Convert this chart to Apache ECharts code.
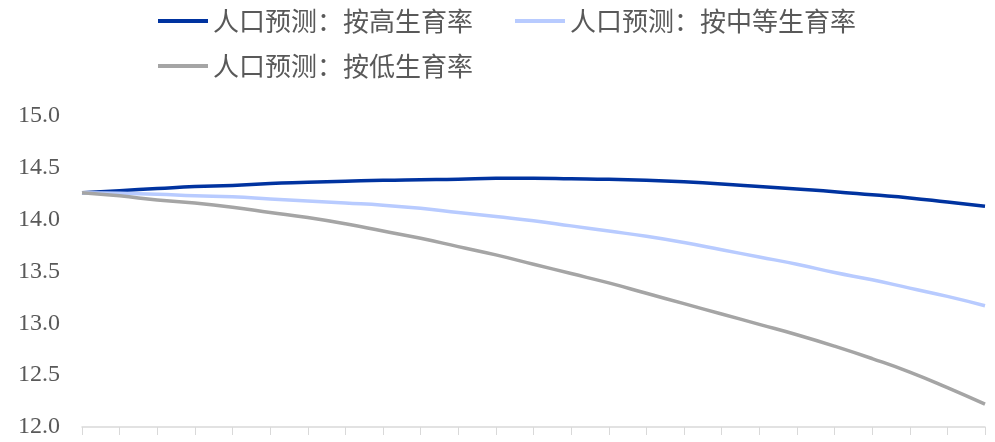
<!DOCTYPE html>
<html>
<head>
<meta charset="utf-8">
<script src="https://cdn.jsdelivr.net/npm/echarts@6/dist/echarts.min.js"></script>
<style>
html, body { margin: 0; padding: 0; background: #fff; }
#main { width: 995px; height: 442px; }
</style>
</head>
<body>
<div id="main"></div>
<script>
// 年份（横轴刻度，原图未显示标签）
var years = ['2021','2022','2023','2024','2025','2026','2027','2028','2029','2030',
	'2031','2032','2033','2034','2035','2036','2037','2038','2039','2040',
	'2041','2042','2043','2044','2045'];
var seriesNames = ['人口预测：按高生育率', '人口预测：按中等生育率', '人口预测：按低生育率'];
// 人口预测值（亿人）
var highRate = [14.26, 14.28, 14.30, 14.32, 14.33, 14.35, 14.36, 14.37, 14.38, 14.385,
	14.39, 14.40, 14.40, 14.395, 14.39, 14.38, 14.365, 14.345, 14.32, 14.295,
	14.27, 14.24, 14.21, 14.17, 14.13];
var midRate = [14.26, 14.255, 14.245, 14.23, 14.22, 14.20, 14.18, 14.16, 14.14, 14.11,
	14.07, 14.03, 13.99, 13.94, 13.89, 13.84, 13.78, 13.71, 13.64, 13.57,
	13.49, 13.42, 13.34, 13.26, 13.17];
var lowRate = [14.26, 14.23, 14.19, 14.16, 14.12, 14.07, 14.02, 13.96, 13.89, 13.82,
	13.74, 13.66, 13.57, 13.48, 13.39, 13.29, 13.19, 13.09, 12.99, 12.89,
	12.78, 12.66, 12.53, 12.38, 12.22];

var myChart = echarts.init(document.getElementById('main'));
var legendText = { fontFamily: 'Noto Sans CJK SC', fontSize: 26, color: '#595959' };
var option = {
	animation: false,
	legend: [
		{
			data: [seriesNames[0], seriesNames[1]],
			left: 158, top: 8, padding: 0,
			itemWidth: 50, itemHeight: 4, itemGap: 42,
			icon: 'rect',
			textStyle: legendText
		},
		{
			data: [seriesNames[2]],
			left: 158, top: 53, padding: 0,
			itemWidth: 50, itemHeight: 4,
			icon: 'rect',
			textStyle: legendText
		}
	],
	grid: { left: 82, right: 10, top: 116, bottom: 15, containLabel: false },
	xAxis: {
		type: 'category',
		data: years,
		boundaryGap: false,
		axisLine: { lineStyle: { color: '#d9d9d9', width: 1.5 } },
		axisTick: { show: true, length: 8, lineStyle: { color: '#d9d9d9' } },
		axisLabel: { show: false }
	},
	yAxis: {
		type: 'value',
		min: 12, max: 15, interval: 0.5,
		axisLine: { show: false },
		axisTick: { show: false },
		splitLine: { show: false },
		axisLabel: {
			margin: 22,
			fontFamily: 'Liberation Serif',
			fontSize: 24,
			color: '#595959',
			formatter: function (v) { return v.toFixed(1); }
		}
	},
	series: [
		{ name: seriesNames[0], type: 'line', data: highRate, smooth: true, symbol: 'none',
			lineStyle: { width: 3.5, color: '#0033A0' }, itemStyle: { color: '#0033A0' } },
		{ name: seriesNames[1], type: 'line', data: midRate, smooth: true, symbol: 'none',
			lineStyle: { width: 3.5, color: '#B8CBFF' }, itemStyle: { color: '#B8CBFF' } },
		{ name: seriesNames[2], type: 'line', data: lowRate, smooth: true, symbol: 'none',
			lineStyle: { width: 3.5, color: '#A5A5A5' }, itemStyle: { color: '#A5A5A5' } }
	]
};
myChart.setOption(option);
</script>
</body>
</html>
